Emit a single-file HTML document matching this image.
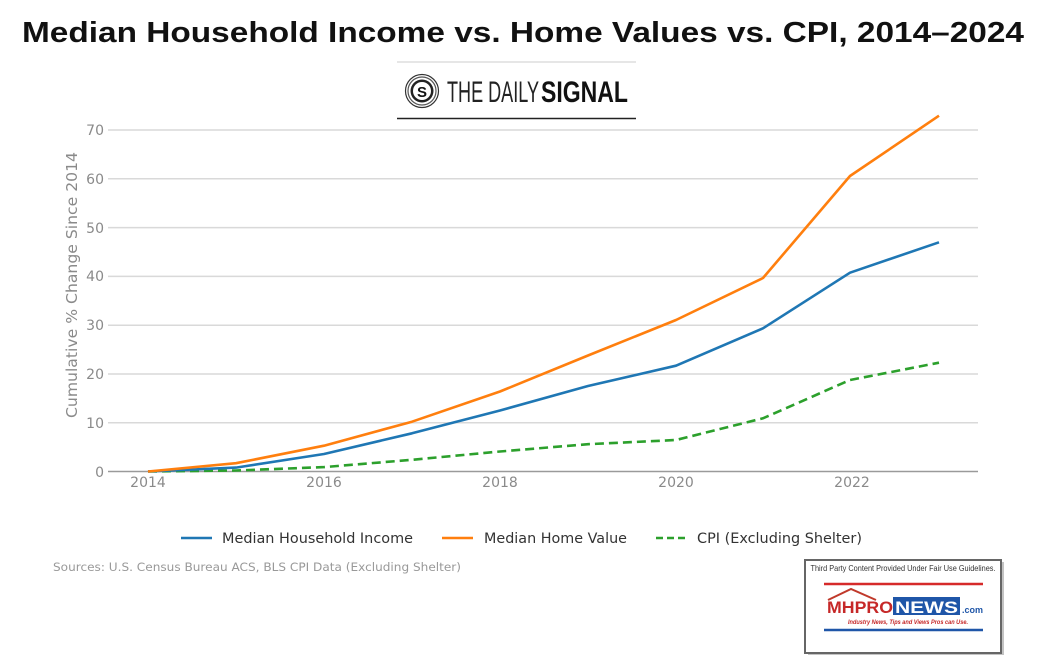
<!DOCTYPE html>
<html><head><meta charset="utf-8">
<style>
html,body{margin:0;padding:0;background:#fff;}
svg{display:block;}
</style></head>
<body>
<svg width="1044" height="662" viewBox="0 0 1044 662" xmlns="http://www.w3.org/2000/svg">
<rect width="1044" height="662" fill="#fff"/>
<!-- Title -->
<text x="22" y="42" font-family="Liberation Sans, sans-serif" font-weight="bold" font-size="28.5" fill="#111" textLength="1002" lengthAdjust="spacingAndGlyphs">Median Household Income vs. Home Values vs. CPI, 2014–2024</text>

<!-- Daily Signal logo -->
<line x1="397" y1="62" x2="636" y2="62" stroke="#ddd" stroke-width="1.5"/>
<circle cx="422" cy="91" r="16.5" fill="none" stroke="#333" stroke-width="1.2"/>
<circle cx="422" cy="91" r="14" fill="none" stroke="#555" stroke-width="1.2"/>
<circle cx="422" cy="91" r="11.5" fill="#222"/>
<circle cx="422" cy="91" r="9" fill="#fff"/>
<text x="422" y="97" text-anchor="middle" font-family="Liberation Sans, sans-serif" font-weight="bold" font-size="15" fill="#111">S</text>
<text x="447" y="102" font-family="Liberation Sans Narrow, Liberation Sans, sans-serif" font-size="30" fill="#222" textLength="92" lengthAdjust="spacingAndGlyphs" font-weight="normal">THE DAILY</text>
<text x="541" y="102" font-family="Liberation Sans Narrow, Liberation Sans, sans-serif" font-size="30" fill="#111" font-weight="bold" textLength="87" lengthAdjust="spacingAndGlyphs">SIGNAL</text>
<line x1="397" y1="118.5" x2="636" y2="118.5" stroke="#222" stroke-width="1.5"/>

<!-- Gridlines -->
<g stroke="#d9d9d9" stroke-width="1.5">
<line x1="108" y1="130" x2="978" y2="130"/>
<line x1="108" y1="178.8" x2="978" y2="178.8"/>
<line x1="108" y1="227.6" x2="978" y2="227.6"/>
<line x1="108" y1="276.4" x2="978" y2="276.4"/>
<line x1="108" y1="325.2" x2="978" y2="325.2"/>
<line x1="108" y1="374" x2="978" y2="374"/>
<line x1="108" y1="422.8" x2="978" y2="422.8"/>
</g>
<line x1="108" y1="471.5" x2="978" y2="471.5" stroke="#9a9a9a" stroke-width="1.5"/>

<!-- Y tick labels -->
<g font-family="DejaVu Sans, sans-serif" font-size="14" fill="#8a8a8a" text-anchor="end">
<text x="104" y="135">70</text>
<text x="104" y="184">60</text>
<text x="104" y="233">50</text>
<text x="104" y="281">40</text>
<text x="104" y="330">30</text>
<text x="104" y="379">20</text>
<text x="104" y="428">10</text>
<text x="104" y="477">0</text>
</g>
<text transform="translate(77,285) rotate(-90)" text-anchor="middle" font-family="DejaVu Sans, sans-serif" font-size="15" fill="#8a8a8a" textLength="266" lengthAdjust="spacingAndGlyphs">Cumulative % Change Since 2014</text>

<!-- X tick labels -->
<g font-family="DejaVu Sans, sans-serif" font-size="14" fill="#8a8a8a" text-anchor="middle">
<text x="148" y="487">2014</text>
<text x="324" y="487">2016</text>
<text x="500" y="487">2018</text>
<text x="676" y="487">2020</text>
<text x="852" y="487">2022</text>
</g>

<!-- Series -->
<polyline fill="none" stroke="#2ca02c" stroke-width="2.6" stroke-dasharray="9,5"
 points="148,471.5 236,470.5 324,467.1 412,459.8 500,451.5 588,444.2 676,440 763,418.3 850,380 939,362.7"/>
<polyline fill="none" stroke="#1f77b4" stroke-width="2.6" stroke-linejoin="round"
 points="148,471.5 236,467.6 324,454 412,433.3 500,410.5 588,386 676,365.7 763,328.3 850,272.7 939,242.3"/>
<polyline fill="none" stroke="#ff7f0e" stroke-width="2.6" stroke-linejoin="round"
 points="148,471.5 236,463.2 324,445.7 412,421.7 500,391.5 588,355.5 676,320 763,278 850,176 939,115.7"/>

<!-- Legend -->
<line x1="181" y1="538" x2="212" y2="538" stroke="#1f77b4" stroke-width="2.6"/>
<text x="222" y="543" font-family="DejaVu Sans, sans-serif" font-size="14.5" fill="#333" textLength="191" lengthAdjust="spacingAndGlyphs">Median Household Income</text>
<line x1="442" y1="538" x2="473" y2="538" stroke="#ff7f0e" stroke-width="2.6"/>
<text x="484" y="543" font-family="DejaVu Sans, sans-serif" font-size="14.5" fill="#333" textLength="143" lengthAdjust="spacingAndGlyphs">Median Home Value</text>
<line x1="656" y1="538" x2="687" y2="538" stroke="#2ca02c" stroke-width="2.6" stroke-dasharray="7,4"/>
<text x="697" y="543" font-family="DejaVu Sans, sans-serif" font-size="14.5" fill="#333" textLength="165" lengthAdjust="spacingAndGlyphs">CPI (Excluding Shelter)</text>

<!-- Sources -->
<text x="53" y="571" font-family="DejaVu Sans, sans-serif" font-size="11.5" fill="#999" textLength="408" lengthAdjust="spacingAndGlyphs">Sources: U.S. Census Bureau ACS, BLS CPI Data (Excluding Shelter)</text>

<!-- MHProNews box -->
<rect x="808" y="562" width="196" height="93" fill="#888" opacity="0.5"/>
<rect x="805" y="560" width="196" height="93" fill="#fff" stroke="#666" stroke-width="2"/>
<text x="903" y="571" text-anchor="middle" font-family="Liberation Sans, sans-serif" font-size="8.5" fill="#333" textLength="185" lengthAdjust="spacingAndGlyphs">Third Party Content Provided Under Fair Use Guidelines.</text>
<line x1="824" y1="584" x2="983" y2="584" stroke="#d62a2a" stroke-width="2.5"/>
<polyline points="828,600 851,589 876,600" fill="none" stroke="#c0392b" stroke-width="2"/>
<text x="827" y="613" font-family="Liberation Sans, sans-serif" font-weight="bold" font-size="17" fill="#c62828" textLength="66" lengthAdjust="spacingAndGlyphs">MHPRO</text>
<rect x="893" y="597" width="67" height="18" fill="#1f56a8"/>
<text x="895" y="613" font-family="Liberation Sans, sans-serif" font-weight="bold" font-size="17" fill="#fff" textLength="63" lengthAdjust="spacingAndGlyphs">NEWS</text>
<text x="962" y="613" font-family="Liberation Sans, sans-serif" font-weight="bold" font-size="9" fill="#1f56a8">.com</text>
<text x="908" y="624" text-anchor="middle" font-family="Liberation Sans, sans-serif" font-style="italic" font-weight="bold" font-size="6.5" fill="#c62828" textLength="120" lengthAdjust="spacingAndGlyphs">Industry News, Tips and Views Pros can Use.</text>
<line x1="824" y1="630" x2="983" y2="630" stroke="#1f56a8" stroke-width="2.5"/>
</svg>
</body></html>
